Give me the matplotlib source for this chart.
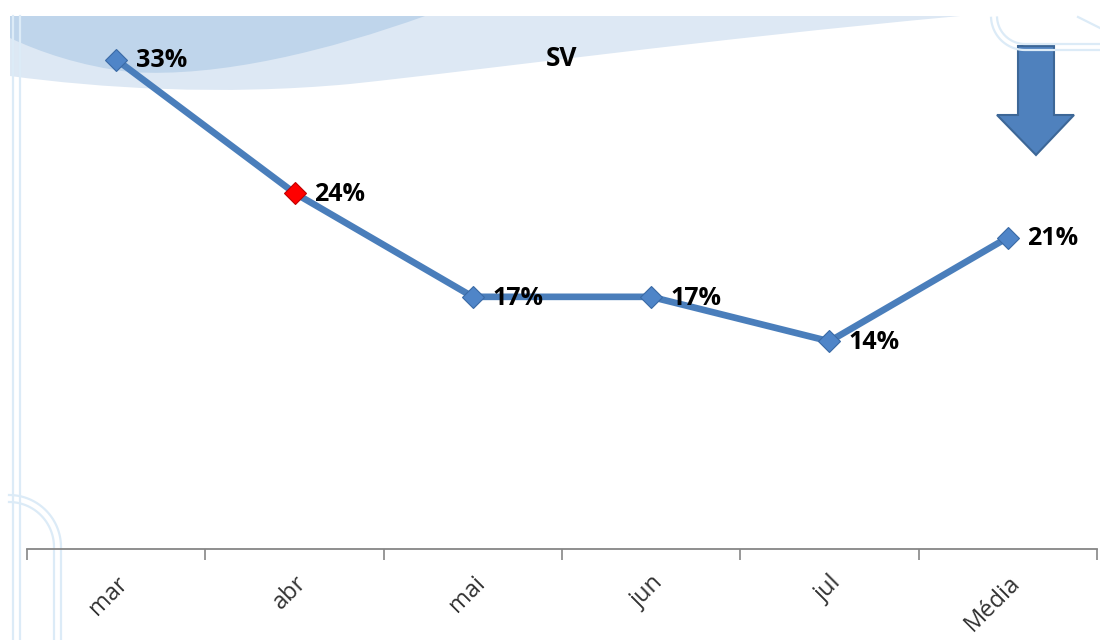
import matplotlib
matplotlib.use("Agg")
import matplotlib.pyplot as plt
from matplotlib.path import Path
from matplotlib.patches import PathPatch, Polygon
import numpy as np

categories = ["mar", "abr", "mai", "jun", "jul", "Média"]
values = [33, 24, 17, 17, 14, 21]
highlight = "abr"
title = "SV"

W, H = 1100, 640
fig = plt.figure(figsize=(W / 100, H / 100), dpi=100)
fig.patch.set_facecolor("white")

# ---- decorative background (pixel coordinates) ----
bg = fig.add_axes([0, 0, 1, 1], zorder=0)
bg.set_xlim(0, W)
bg.set_ylim(H, 0)
bg.axis("off")

# light band
light = Path([(10, 16), (960, 16), (960, 16),
              (700, 40), (500, 68), (350, 84),
              (220, 96), (100, 88), (10, 76),
              (10, 16)],
             [Path.MOVETO, Path.LINETO, Path.LINETO,
              Path.CURVE4, Path.CURVE4, Path.CURVE4,
              Path.CURVE4, Path.CURVE4, Path.CURVE4,
              Path.CLOSEPOLY])
bg.add_patch(PathPatch(light, facecolor="#dde8f4", edgecolor="none"))
# darker band
dark = Path([(10, 16), (425, 16),
             (330, 50), (220, 78), (130, 72),
             (80, 66), (40, 52), (10, 38),
             (10, 16)],
            [Path.MOVETO, Path.LINETO,
             Path.CURVE4, Path.CURVE4, Path.CURVE4,
             Path.CURVE4, Path.CURVE4, Path.CURVE4,
             Path.CLOSEPOLY])
bg.add_patch(PathPatch(dark, facecolor="#bfd5eb", edgecolor="none"))

deco = "#dcebf7"
bg.plot([13, 13], [16, H], color=deco, lw=1.6)
bg.plot([20, 20], [16, H], color=deco, lw=1.6)
for r in (45, 52):
    t = np.linspace(np.pi / 2, 0, 40)
    xs = 9 + r * np.cos(t)
    ys = 547 - r * np.sin(t)
    bg.plot(np.r_[xs, xs[-1]], np.r_[ys, H], color=deco, lw=1.6)
for r, yb in ((28, 44), (34, 50)):
    t = np.linspace(np.pi, np.pi * 1.5, 30)
    xs = 1025 + r * np.cos(t)
    ys = (yb - r) - r * np.sin(t)
    ok = ys >= 16
    bg.plot(np.r_[xs[ok], W], np.r_[ys[ok], yb], color=deco, lw=1.6)
bg.plot([1078, W], [17, 28], color=deco, lw=1.6)

# down arrow
arrow = Polygon([(1018, 46), (1054, 46), (1054, 115), (1074, 115),
                 (1036, 155), (997, 115), (1018, 115)], closed=True,
                facecolor="#4f81bd", edgecolor="#3d6797", lw=1.5)
bg.add_patch(arrow)

# ---- main chart ----
ax = fig.add_axes([27 / W, 91 / H, 1070 / W, 534 / H], zorder=1)
ax.patch.set_alpha(0)
x = np.arange(len(categories))
ax.plot(x, values, color="#4a7ebb", lw=4.8, solid_capstyle="round", zorder=2)
for xi, v, c in zip(x, values, categories):
    fc = "#ff0000" if c == highlight else "#4f85c8"
    ec = "#c00000" if c == highlight else "#3a6aa5"
    ax.plot([xi], [v], marker="D", markersize=11, markerfacecolor=fc,
            markeredgecolor=ec, markeredgewidth=0.8, zorder=3)
    ax.annotate(f"{v}%", (xi, v), xytext=(14, -1), textcoords="offset points",
                ha="left", va="center", fontsize=18, fontweight="bold",
                family="Open Sans", color="black", zorder=4)

ax.set_xlim(-0.5, len(categories) - 0.5)
ax.set_ylim(0, 36)
for s in ("left", "right", "top"):
    ax.spines[s].set_visible(False)
ax.spines["bottom"].set_color("#868686")
ax.spines["bottom"].set_linewidth(1.3)
ax.set_yticks([])
ax.set_xticks(x)
ax.set_xticklabels(categories, rotation=45, ha="right", va="top",
                   rotation_mode="anchor", fontsize=17, color="#333333",
                   family="Open Sans")
ax.tick_params(axis="x", which="major", length=0, pad=16)
ax.set_xticks(np.arange(-0.5, len(categories)), minor=True)
ax.tick_params(axis="x", which="minor", length=8, color="#868686", width=1.2)

ax.text(0.5, 1 - 43 / 534, title, transform=ax.transAxes, ha="center",
        va="center", fontsize=19, fontweight="bold", family="Open Sans",
        color="black")

fig.savefig("out.png", dpi=100)
